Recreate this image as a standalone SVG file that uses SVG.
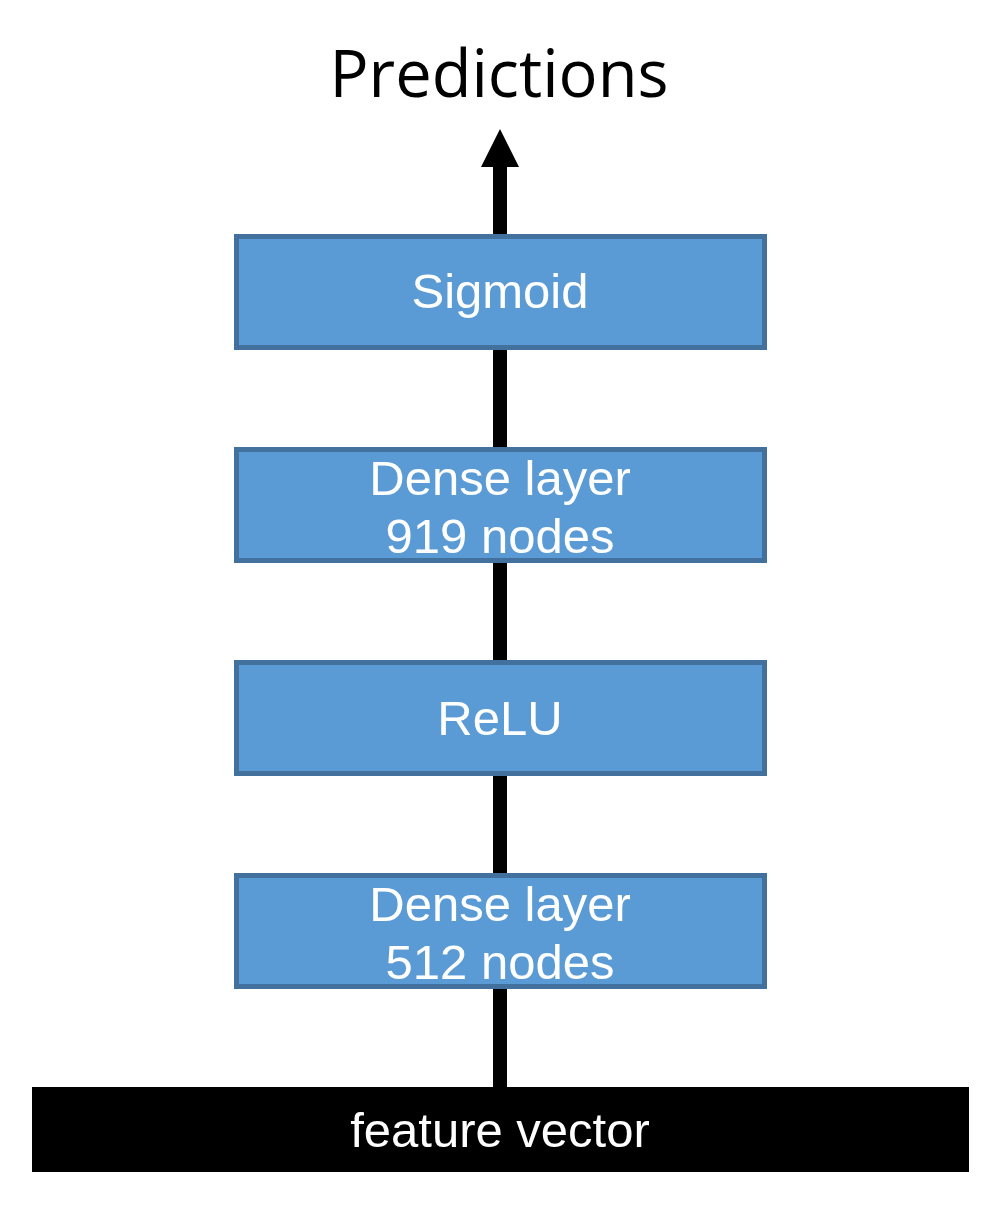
<svg xmlns="http://www.w3.org/2000/svg" width="992" height="1209" viewBox="0 0 992 1209">
<style>
.box{fill:#5B9BD5;stroke:#41719C;stroke-width:5}
.lbl{font-family:"Liberation Sans",Arial,sans-serif;font-size:49px;fill:#FFFFFF;text-anchor:middle}
.conn{stroke:#000000;stroke-width:14;fill:none}
</style>
<rect width="992" height="1209" fill="#FFFFFF"/>
<g id="connectors">
<line class="conn" x1="500" y1="1087" x2="500" y2="987"/>
<line class="conn" x1="500" y1="875" x2="500" y2="774"/>
<line class="conn" x1="500" y1="662" x2="500" y2="561"/>
<line class="conn" x1="500" y1="449" x2="500" y2="348"/>
<line class="conn" x1="500" y1="236" x2="500" y2="165"/>
<polygon points="500,129 481,167 519,167" fill="#000000"/>
</g>
<g id="predictions">
<text x="499" y="97" style="font-family:'Open Sans','Noto Sans',sans-serif;font-size:65px;fill:#000000;text-anchor:middle">Predictions</text>
</g>
<g id="sigmoid">
<rect class="box" x="236.5" y="236.5" width="528" height="111"/>
<text class="lbl" x="500" y="308">Sigmoid</text>
</g>
<g id="dense919">
<rect class="box" x="236.5" y="449.5" width="528" height="111"/>
<text class="lbl" x="500" y="495">Dense layer</text>
<text class="lbl" x="500" y="553">919 nodes</text>
</g>
<g id="relu">
<rect class="box" x="236.5" y="662.5" width="528" height="111"/>
<text class="lbl" x="500" y="735">ReLU</text>
</g>
<g id="dense512">
<rect class="box" x="236.5" y="875.5" width="528" height="111"/>
<text class="lbl" x="500" y="921">Dense layer</text>
<text class="lbl" x="500" y="979">512 nodes</text>
</g>
<g id="featurevector">
<rect x="32" y="1087" width="937" height="85" fill="#000000"/>
<text class="lbl" x="500" y="1147">feature vector</text>
</g>
</svg>
